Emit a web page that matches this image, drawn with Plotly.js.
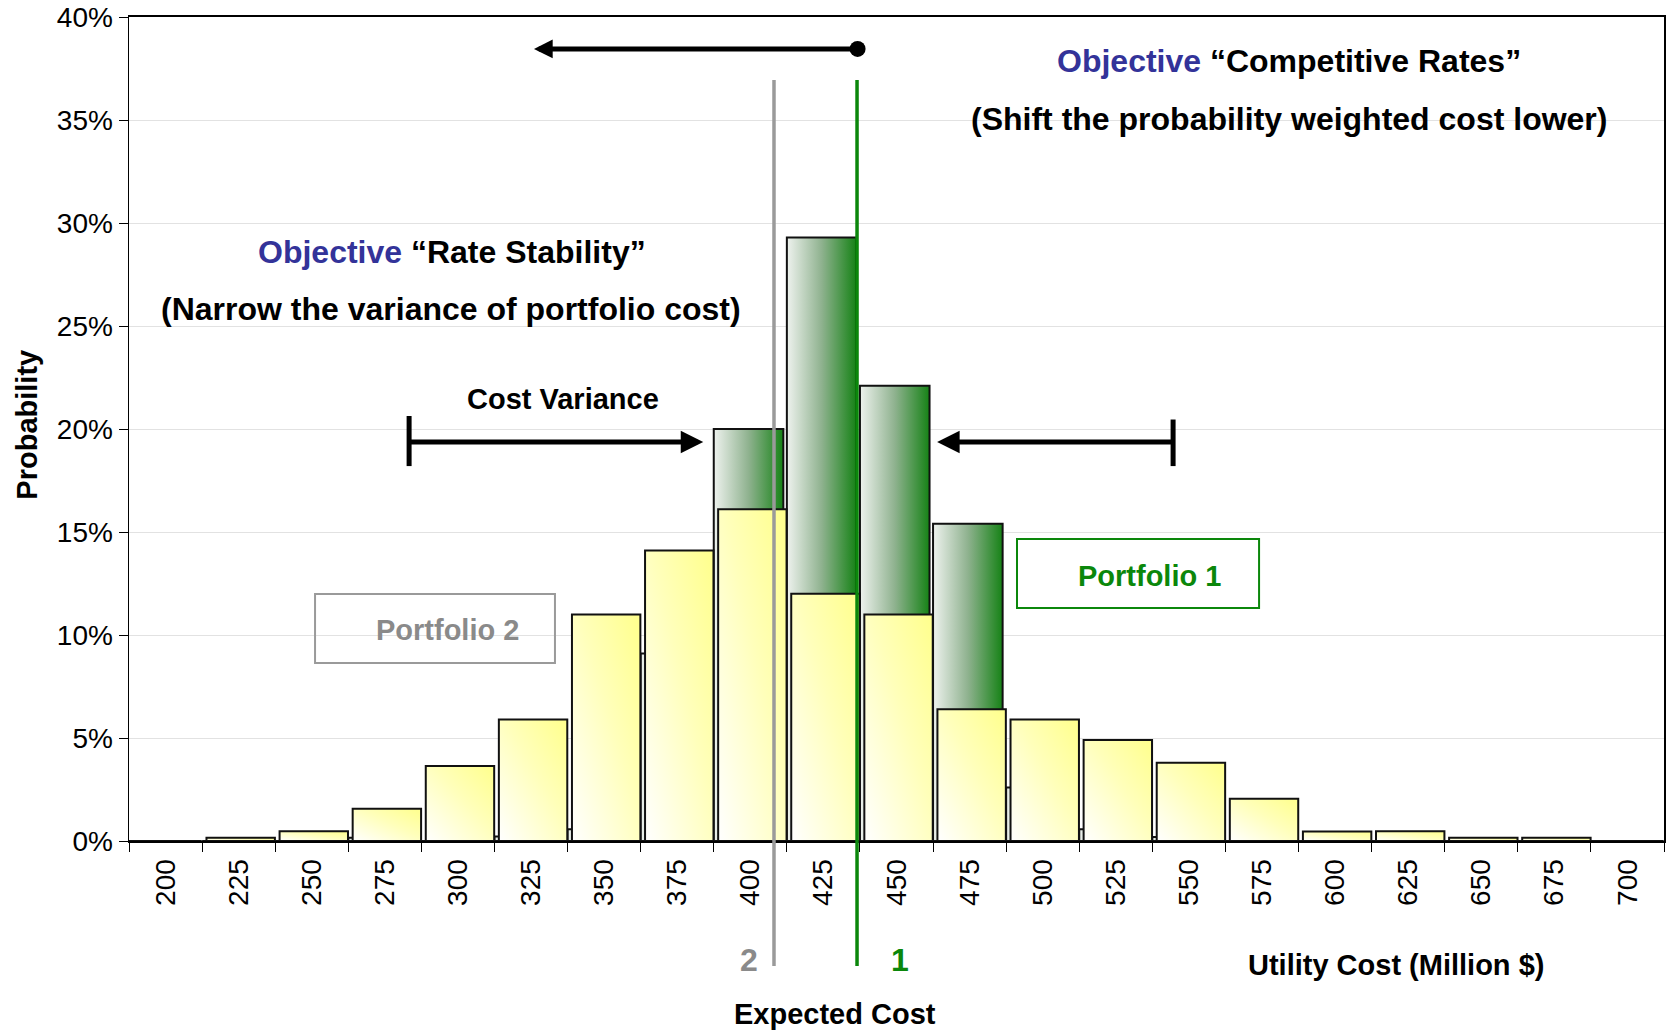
<!DOCTYPE html>
<html>
<head>
<meta charset="utf-8">
<script src="https://cdn.plot.ly/plotly-3.0.1.min.js"></script>
<style>
  html, body { margin: 0; padding: 0; background: #ffffff; }
  #chart { width: 1674px; height: 1030px; }
</style>
</head>
<body>
<div id="chart"></div>
<script>
// ---- Data ----
const costBins = [200, 225, 250, 275, 300, 325, 350, 375, 400, 425, 450, 475, 500, 525, 550, 575, 600, 625, 650, 675, 700];
const tickLabels = ["200", "225", "250", "275", "300", "325", "350", "375", "400", "425", "450", "475", "500", "525", "550", "575", "600", "625", "650", "675", "700"];
// Portfolio 1 (green, narrower distribution)
const portfolio1Prob = [0, 0, 0, 0.0016, 0, 0.0022, 0.0057, 0.091, 0.200, 0.293, 0.221, 0.154, 0.026, 0.0057, 0.0020, 0, 0, 0, 0, 0, 0];
// Portfolio 2 (yellow, wider distribution)
const portfolio2Prob = [0, 0.0016, 0.0047, 0.0157, 0.0364, 0.059, 0.110, 0.141, 0.161, 0.120, 0.110, 0.064, 0.059, 0.049, 0.038, 0.0205, 0.0046, 0.0047, 0.0016, 0.0016, 0];
// Expected cost markers: [Portfolio 1, Portfolio 2]
const expectedCost = [436.5, 408.1];
const yTickVals = [0, 0.05, 0.10, 0.15, 0.20, 0.25, 0.30, 0.35, 0.40];

const binWidth = 25;
const boundaries = costBins.map(v => v - binWidth / 2).concat([costBins[costBins.length - 1] + binWidth / 2]);

const FONT = "Liberation Sans, Arial, Helvetica, sans-serif";

const traces = [
  {
    type: "bar", name: "Portfolio 1",
    x: costBins, y: portfolio1Prob,
    offset: -12.5, width: 23.8,
    marker: { color: "#7aa87a", line: { color: "#111111", width: 2 } },
    hoverinfo: "x+y"
  },
  {
    type: "bar", name: "Portfolio 2",
    x: costBins, y: portfolio2Prob,
    offset: -11.0, width: 23.4,
    marker: { color: "#ffffc4", line: { color: "#111111", width: 2 } },
    hoverinfo: "x+y"
  }
];

const bold = t => "<b>" + t + "</b>";

const layout = {
  width: 1674, height: 1030,
  margin: { l: 129, r: 10, t: 17, b: 189, pad: 0 },
  paper_bgcolor: "#ffffff", plot_bgcolor: "#ffffff",
  font: { family: FONT, color: "#000000" },
  showlegend: false,
  barmode: "overlay",
  xaxis: {
    type: "linear",
    range: [boundaries[0], boundaries[boundaries.length - 1]],
    tickmode: "array", tickvals: costBins, ticktext: tickLabels,
    ticks: "", tickangle: -90, ticklabelstandoff: 5,
    tickfont: { size: 28, family: FONT, color: "#000" },
    showgrid: false, zeroline: false,
    showline: true, linecolor: "#000", linewidth: 2, mirror: true,
    automargin: false,
    minor: { tickmode: "array", tickvals: boundaries, ticks: "outside", ticklen: 9, tickwidth: 1, tickcolor: "#000", showgrid: false }
  },
  yaxis: {
    range: [0, 0.4],
    tickmode: "array", tickvals: yTickVals, tickformat: ".0%",
    ticks: "outside", ticklen: 9, tickwidth: 1, tickcolor: "#000",
    tickfont: { size: 28, family: FONT, color: "#000" },
    showgrid: true, gridcolor: "#e2e2e2", gridwidth: 1,
    zeroline: false,
    showline: true, linecolor: "#000", linewidth: 1.5, mirror: true,
    automargin: false
  },
  shapes: [
    // expected cost lines
    { type: "line", xref: "x", yref: "paper", x0: expectedCost[1], x1: expectedCost[1], y0: -0.1517, y1: 0.9235, line: { color: "#9a9a9a", width: 3.5 } },
    { type: "line", xref: "x", yref: "paper", x0: expectedCost[0], x1: expectedCost[0], y0: -0.1517, y1: 0.9235, line: { color: "#0b870b", width: 3.5 } },
    // portfolio label boxes
    { type: "rect", xref: "paper", yref: "paper", x0: 0.1212, x1: 0.2775, y0: 0.2160, y1: 0.2998, line: { color: "#9a9a9a", width: 2 }, fillcolor: "rgba(255,255,255,0)" },
    { type: "rect", xref: "paper", yref: "paper", x0: 0.5785, x1: 0.7362, y0: 0.2828, y1: 0.3665, line: { color: "#0b870b", width: 2 }, fillcolor: "rgba(255,255,255,0)" },
    // variance brackets
    { type: "line", xref: "x", yref: "y", x0: 283.3, x1: 283.3, y0: 0.182, y1: 0.2063, line: { color: "#000", width: 5 } },
    { type: "line", xref: "x", yref: "y", x0: 544.6, x1: 544.6, y0: 0.182, y1: 0.2046, line: { color: "#000", width: 5 } }
  ],
  annotations: [
    // arrows
    { xref: "x", yref: "y", axref: "x", ayref: "y", x: 326, y: 0.3845, ax: 437.2, ay: 0.3845, text: "", showarrow: true,
      arrowhead: 2, arrowsize: 0.75, arrowwidth: 5, arrowside: "end+start", startarrowhead: 6, startarrowsize: 0.8, arrowcolor: "#000", standoff: 0, startstandoff: 0 },
    { xref: "x", yref: "y", axref: "x", ayref: "y", x: 383.9, y: 0.1937, ax: 283.3, ay: 0.1937, text: "", showarrow: true,
      arrowhead: 2, arrowsize: 0.9, arrowwidth: 5, arrowcolor: "#000", standoff: 0, startstandoff: 0 },
    { xref: "x", yref: "y", axref: "x", ayref: "y", x: 463.9, y: 0.1937, ax: 544.6, ay: 0.1937, text: "", showarrow: true,
      arrowhead: 2, arrowsize: 0.9, arrowwidth: 5, arrowcolor: "#000", standoff: 0, startstandoff: 0 },
    // objective texts
    { xref: "paper", yref: "paper", x: 0.7554, y: 0.9467, xanchor: "center", yanchor: "middle", showarrow: false,
      text: bold('<span style="color:#333399">Objective</span> “Competitive Rates”'), font: { size: 32, family: FONT, color: "#000" } },
    { xref: "paper", yref: "paper", x: 0.7554, y: 0.8768, xanchor: "center", yanchor: "middle", showarrow: false,
      text: bold("(Shift the probability weighted cost lower)"), font: { size: 32, family: FONT, color: "#000" } },
    { xref: "paper", yref: "paper", x: 0.2102, y: 0.7148, xanchor: "center", yanchor: "middle", showarrow: false,
      text: bold('<span style="color:#333399">Objective</span> “Rate Stability”'), font: { size: 32, family: FONT, color: "#000" } },
    { xref: "paper", yref: "paper", x: 0.2098, y: 0.6462, xanchor: "center", yanchor: "middle", showarrow: false,
      text: bold("(Narrow the variance of portfolio cost)"), font: { size: 32, family: FONT, color: "#000" } },
    { xref: "paper", yref: "paper", x: 0.2827, y: 0.5360, xanchor: "center", yanchor: "middle", showarrow: false,
      text: bold("Cost Variance"), font: { size: 29, family: FONT, color: "#000" } },
    // portfolio labels
    { xref: "paper", yref: "paper", x: 0.2078, y: 0.2562, xanchor: "center", yanchor: "middle", showarrow: false,
      text: bold("Portfolio 2"), font: { size: 29, family: FONT, color: "#8a8a8a" } },
    { xref: "paper", yref: "paper", x: 0.6645, y: 0.3210, xanchor: "center", yanchor: "middle", showarrow: false,
      text: bold("Portfolio 1"), font: { size: 29, family: FONT, color: "#0b870b" } },
    // expected cost labels
    { xref: "paper", yref: "paper", x: 0.4042, y: -0.1442, xanchor: "center", yanchor: "middle", showarrow: false,
      text: bold("2"), font: { size: 32, family: FONT, color: "#8a8a8a" } },
    { xref: "paper", yref: "paper", x: 0.5023, y: -0.1442, xanchor: "center", yanchor: "middle", showarrow: false,
      text: bold("1"), font: { size: 32, family: FONT, color: "#0b870b" } },
    { xref: "paper", yref: "paper", x: 0.4599, y: -0.2102, xanchor: "center", yanchor: "middle", showarrow: false,
      text: bold("Expected Cost"), font: { size: 29, family: FONT, color: "#000" } },
    // axis titles
    { xref: "paper", yref: "paper", x: 0.8253, y: -0.1506, xanchor: "center", yanchor: "middle", showarrow: false,
      text: bold("Utility Cost (Million $)"), font: { size: 29, family: FONT, color: "#000" } },
    { xref: "paper", yref: "paper", x: -0.0666, y: 0.5050, xanchor: "center", yanchor: "middle", showarrow: false, textangle: -90,
      text: bold("Probability"), font: { size: 29, family: FONT, color: "#000" } }
  ]
};

const gd = document.getElementById("chart");

function makeGradient(defs, id, x1, y1, x2, y2, stops) {
  const NS = "http://www.w3.org/2000/svg";
  const g = document.createElementNS(NS, "linearGradient");
  g.setAttribute("id", id);
  g.setAttribute("x1", x1); g.setAttribute("y1", y1);
  g.setAttribute("x2", x2); g.setAttribute("y2", y2);
  stops.forEach(s => {
    const st = document.createElementNS(NS, "stop");
    st.setAttribute("offset", s[0]);
    st.setAttribute("stop-color", s[1]);
    g.appendChild(st);
  });
  defs.appendChild(g);
}

function applyGradients() {
  const svg = gd.querySelector(".main-svg");
  if (!svg) return;
  let defs = svg.querySelector("defs");
  if (!defs) {
    defs = document.createElementNS("http://www.w3.org/2000/svg", "defs");
    svg.insertBefore(defs, svg.firstChild);
  }
  if (!document.getElementById("gradP1")) {
    makeGradient(defs, "gradP1", 0, 0, 1, 0, [[0, "#eef2ee"], [0.5, "#8fb28f"], [1, "#168216"]]);
    makeGradient(defs, "gradP2", 0, 1, 1, 0, [[0, "#ffffff"], [0.55, "#ffffbb"], [1, "#ffff8c"]]);
  }
  const barTraces = gd.querySelectorAll(".barlayer .trace");
  barTraces.forEach((t, i) => {
    const id = i === 0 ? "gradP1" : "gradP2";
    t.querySelectorAll(".point path").forEach(p => { p.style.fill = "url(#" + id + ")"; });
  });
}

Plotly.newPlot(gd, traces, layout, { displayModeBar: false, staticPlot: true }).then(() => {
  applyGradients();
  gd.on && gd.on("plotly_afterplot", applyGradients);
});
</script>
</body>
</html>
